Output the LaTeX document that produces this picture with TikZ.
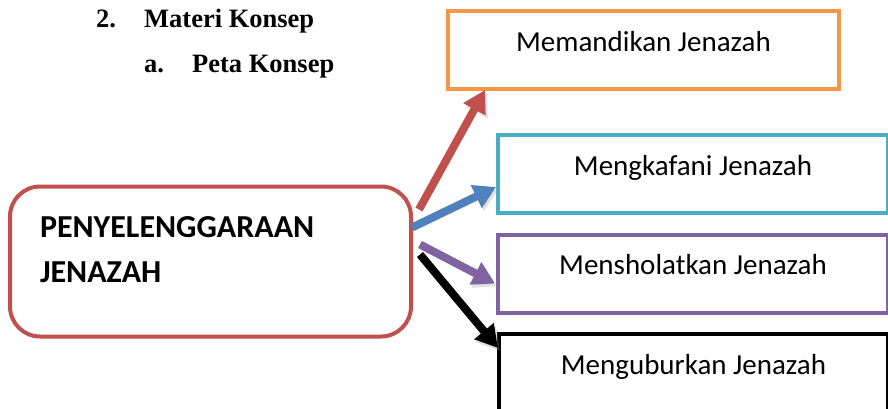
\documentclass[tikz,border=0pt]{standalone}
\usepackage{fontspec}
\setmainfont{Carlito}
\newfontfamily\judulfont{Liberation Serif}
\usetikzlibrary{arrows.meta, positioning, calc}
\definecolor{merah}{HTML}{C0504D}
\definecolor{oranye}{HTML}{F79646}
\definecolor{tosca}{HTML}{4BACC6}
\definecolor{ungu}{HTML}{8064A2}
\definecolor{biru}{HTML}{4F81BD}

\begin{document}
\begin{tikzpicture}[x=1pt,y=-1pt]
  \tikzstyle{judul} = [anchor=base west, inner sep=0, font=\judulfont\bfseries\fontsize{26.5}{30}\selectfont]
  \tikzstyle{kotak} = [rectangle, draw, line width=4pt, inner sep=0, minimum height=78, text height=20, text depth=18, font=\fontsize{29}{34}\selectfont]
  \tikzstyle{pusat} = [rectangle, rounded corners=30, draw=merah, line width=4pt, minimum width=401, minimum height=150, inner xsep=30, text width=341, align=left, font=\bfseries\fontsize{32}{45}\selectfont]
  \tikzstyle{panah} = [-{Triangle[length=22pt,width=24pt]}, line width=8pt, preaction={draw=black!40, opacity=0.3, transform canvas={shift={(2pt,-3pt)}}}]
  \useasboundingbox (0,0) rectangle (888,408);
  \node[judul] at (96,27) (no) {2.};
  \node[judul] at (144,27) (materi) {Materi Konsep};
  \node[judul] at (144,72) (huruf) {a.};
  \node[judul] at (192,72) (peta) {Peta Konsep};
  \node[pusat] at (210.5,261.5) (hub) {PENYELENGGARAAN\\JENAZAH\rule[-24pt]{0pt}{0pt}};
  \node[kotak, draw=oranye, minimum width=391] at (643.5,50) (mandi) {Memandikan Jenazah};
  \node[kotak, draw=tosca, minimum width=390] at (693,174) (kafan) {Mengkafani Jenazah};
  \node[kotak, draw=ungu, minimum width=390] at (693,273.5) (sholat) {Mensholatkan Jenazah};
  \node[kotak, draw=black, minimum width=389] at (693.5,373) (kubur) {Menguburkan Jenazah};
  \draw[panah, merah] ([shift={(6,25)}]hub.north east) -- ([shift={(39,-1)}]mandi.south west);
  \draw[panah, biru] ([shift={(-1,43)}]hub.north east) -- ([shift={(0,-28)}]kafan.south west);
  \draw[panah, ungu] ([shift={(7,60)}]hub.north east) -- ([shift={(-1,10)}]sholat.west);
  \draw[panah, black] ([shift={(7,70)}]hub.north east) -- ([shift={(1,16)}]kubur.north west);
\end{tikzpicture}
\end{document}
